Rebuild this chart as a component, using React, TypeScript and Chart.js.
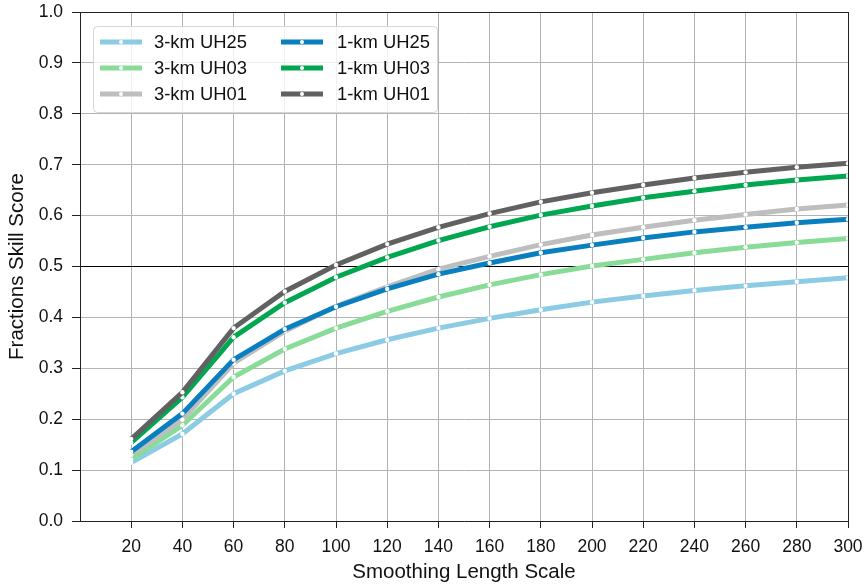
import React, { useEffect, useRef } from "react";
import { Chart, registerables } from "chart.js";

Chart.register(...registerables);

const smoothingScales = [20, 40, 60, 80, 100, 120, 140, 160, 180, 200, 220, 240, 260, 280, 300];

const fss3kmUH25 = [0.115, 0.171, 0.25, 0.295, 0.329, 0.356, 0.379, 0.398, 0.415, 0.43, 0.442, 0.453, 0.462, 0.47, 0.478];
const fss3kmUH03 = [0.121, 0.188, 0.283, 0.338, 0.379, 0.412, 0.44, 0.464, 0.484, 0.501, 0.514, 0.527, 0.538, 0.547, 0.555];
const fss3kmUH01 = [0.13, 0.199, 0.31, 0.373, 0.422, 0.46, 0.495, 0.52, 0.543, 0.562, 0.577, 0.591, 0.602, 0.613, 0.621];
const fss1kmUH25 = [0.136, 0.211, 0.317, 0.377, 0.421, 0.456, 0.485, 0.507, 0.527, 0.542, 0.556, 0.568, 0.577, 0.586, 0.593];
const fss1kmUH03 = [0.154, 0.243, 0.361, 0.429, 0.479, 0.518, 0.551, 0.578, 0.601, 0.619, 0.635, 0.648, 0.66, 0.67, 0.678];
const fss1kmUH01 = [0.161, 0.253, 0.379, 0.451, 0.503, 0.544, 0.577, 0.604, 0.627, 0.645, 0.66, 0.674, 0.685, 0.695, 0.703];

const seriesLabels = ["3-km UH25", "3-km UH03", "3-km UH01", "1-km UH25", "1-km UH03", "1-km UH01"];
const seriesValues = [fss3kmUH25, fss3kmUH03, fss3kmUH01, fss1kmUH25, fss1kmUH03, fss1kmUH01];
const seriesColors = ["#8ccbe4", "#88dc98", "#bebebe", "#0a7fc0", "#00a650", "#616161"];

const yTickValues = [0, 0.1, 0.2, 0.3, 0.4, 0.5, 0.6, 0.7, 0.8, 0.9, 1.0];
const referenceLine = 0.5;

const FONT = "'Liberation Sans', Arial, Helvetica, sans-serif";

const frameAndLegend = {
  id: "frameAndLegend",
  afterDatasetsDraw(chart: any) {
    const { ctx, chartArea } = chart;
    ctx.save();
    ctx.strokeStyle = "#222";
    ctx.lineWidth = 1;
    ctx.beginPath();
    ctx.moveTo(chartArea.left, Math.round(chartArea.top) + 0.5);
    ctx.lineTo(chartArea.right, Math.round(chartArea.top) + 0.5);
    ctx.moveTo(Math.round(chartArea.right) + 0.5, chartArea.top);
    ctx.lineTo(Math.round(chartArea.right) + 0.5, chartArea.bottom);
    ctx.stroke();
    ctx.restore();
  },
  afterDraw(chart: any) {
    const { ctx } = chart;
    const box = { x: 93.5, y: 26.5, w: 344, h: 86, r: 4 };
    ctx.save();
    ctx.beginPath();
    if (ctx.roundRect) ctx.roundRect(box.x, box.y, box.w, box.h, box.r);
    else ctx.rect(box.x, box.y, box.w, box.h);
    ctx.fillStyle = "rgba(255,255,255,0.8)";
    ctx.fill();
    ctx.strokeStyle = "#d6d6d6";
    ctx.lineWidth = 1;
    ctx.stroke();
    const cols = [
      { x0: 100, x1: 142, tx: 154 },
      { x0: 281, x1: 323, tx: 337 },
    ];
    const rows = [42, 68, 94];
    ctx.font = `18.4px ${FONT}`;
    ctx.textBaseline = "middle";
    ctx.textAlign = "left";
    seriesLabels.forEach((label, i) => {
      const c = cols[Math.floor(i / 3)];
      const y = rows[i % 3];
      ctx.strokeStyle = seriesColors[i];
      ctx.lineWidth = 5;
      ctx.lineCap = "butt";
      ctx.beginPath();
      ctx.moveTo(c.x0, y);
      ctx.lineTo(c.x1, y);
      ctx.stroke();
      ctx.fillStyle = "#fff";
      ctx.beginPath();
      ctx.arc((c.x0 + c.x1) / 2, y, 2, 0, Math.PI * 2);
      ctx.fill();
      ctx.fillStyle = "#111";
      ctx.fillText(label, c.tx, y + 1);
    });
    ctx.restore();
  },
};

export default function App() {
  const canvasRef = useRef<HTMLCanvasElement | null>(null);

  useEffect(() => {
    document.body.style.margin = "0";
    const canvas = canvasRef.current;
    if (!canvas) return;

    // draw 1-km on top of 3-km: lower index drawn on top
    const order = [5, 4, 3, 2, 1, 0];
    const datasets = order.map((i) => ({
      label: seriesLabels[i],
      data: smoothingScales.map((x, k) => ({ x, y: seriesValues[i][k] })),
      borderColor: seriesColors[i],
      backgroundColor: seriesColors[i],
      borderWidth: 5,
      pointRadius: 2.2,
      pointBackgroundColor: "#ffffff",
      pointBorderWidth: 0,
      pointHoverRadius: 2.2,
      tension: 0,
      fill: false,
    }));

    const chart = new Chart(canvas, {
      type: "line",
      data: { datasets },
      plugins: [frameAndLegend],
      options: {
        animation: false,
        responsive: false,
        maintainAspectRatio: false,
        layout: { padding: { top: 12, right: 15, left: 0, bottom: 0 } },
        plugins: {
          legend: { display: false },
          tooltip: { enabled: false },
        },
        scales: {
          x: {
            type: "linear",
            min: 0,
            max: 300,
            afterBuildTicks: (scale: any) => {
              scale.ticks = smoothingScales.map((v) => ({ value: v }));
            },
            afterFit: (scale: any) => {
              scale.height = 65;
              scale.paddingLeft = 0;
              scale.paddingRight = 0;
            },
            ticks: {
              color: "#111",
              font: { family: FONT, size: 17.5 },
              padding: 9,
              maxRotation: 0,
              autoSkip: false,
              callback: (v: any) => String(v),
            },
            grid: {
              color: "#b3b3b3",
              lineWidth: 1,
              tickColor: "#222",
              tickLength: 7,
            },
            border: { color: "#222", width: 1 },
            title: {
              display: true,
              text: "Smoothing Length Scale",
              color: "#111",
              font: { family: FONT, size: 20.5 },
              padding: { top: 0, bottom: 1.5 },
            },
          },
          y: {
            type: "linear",
            min: 0,
            max: 1,
            afterBuildTicks: (scale: any) => {
              scale.ticks = yTickValues.map((v) => ({ value: v }));
            },
            afterFit: (scale: any) => {
              scale.width = 80;
              scale.paddingTop = 0;
              scale.paddingBottom = 0;
            },
            ticks: {
              color: "#111",
              font: { family: FONT, size: 17.5 },
              padding: 9,
              autoSkip: false,
              callback: (v: any) => Number(v).toFixed(1),
            },
            grid: {
              color: (c: any) =>
                c.tick && Math.abs(c.tick.value - referenceLine) < 1e-9 ? "#000000" : "#b3b3b3",
              lineWidth: 1,
              tickColor: "#222",
              tickLength: 8,
            },
            border: { color: "#222", width: 1 },
            title: {
              display: true,
              text: "Fractions Skill Score",
              color: "#111",
              font: { family: FONT, size: 20.5 },
              padding: { top: 5.5, bottom: 0 },
            },
          },
        },
      },
    });

    return () => chart.destroy();
  }, []);

  return (
    <div style={{ position: "absolute", left: 0, top: 0, width: 863, height: 586 }}>
      <canvas ref={canvasRef} width={863} height={586} />
    </div>
  );
}
